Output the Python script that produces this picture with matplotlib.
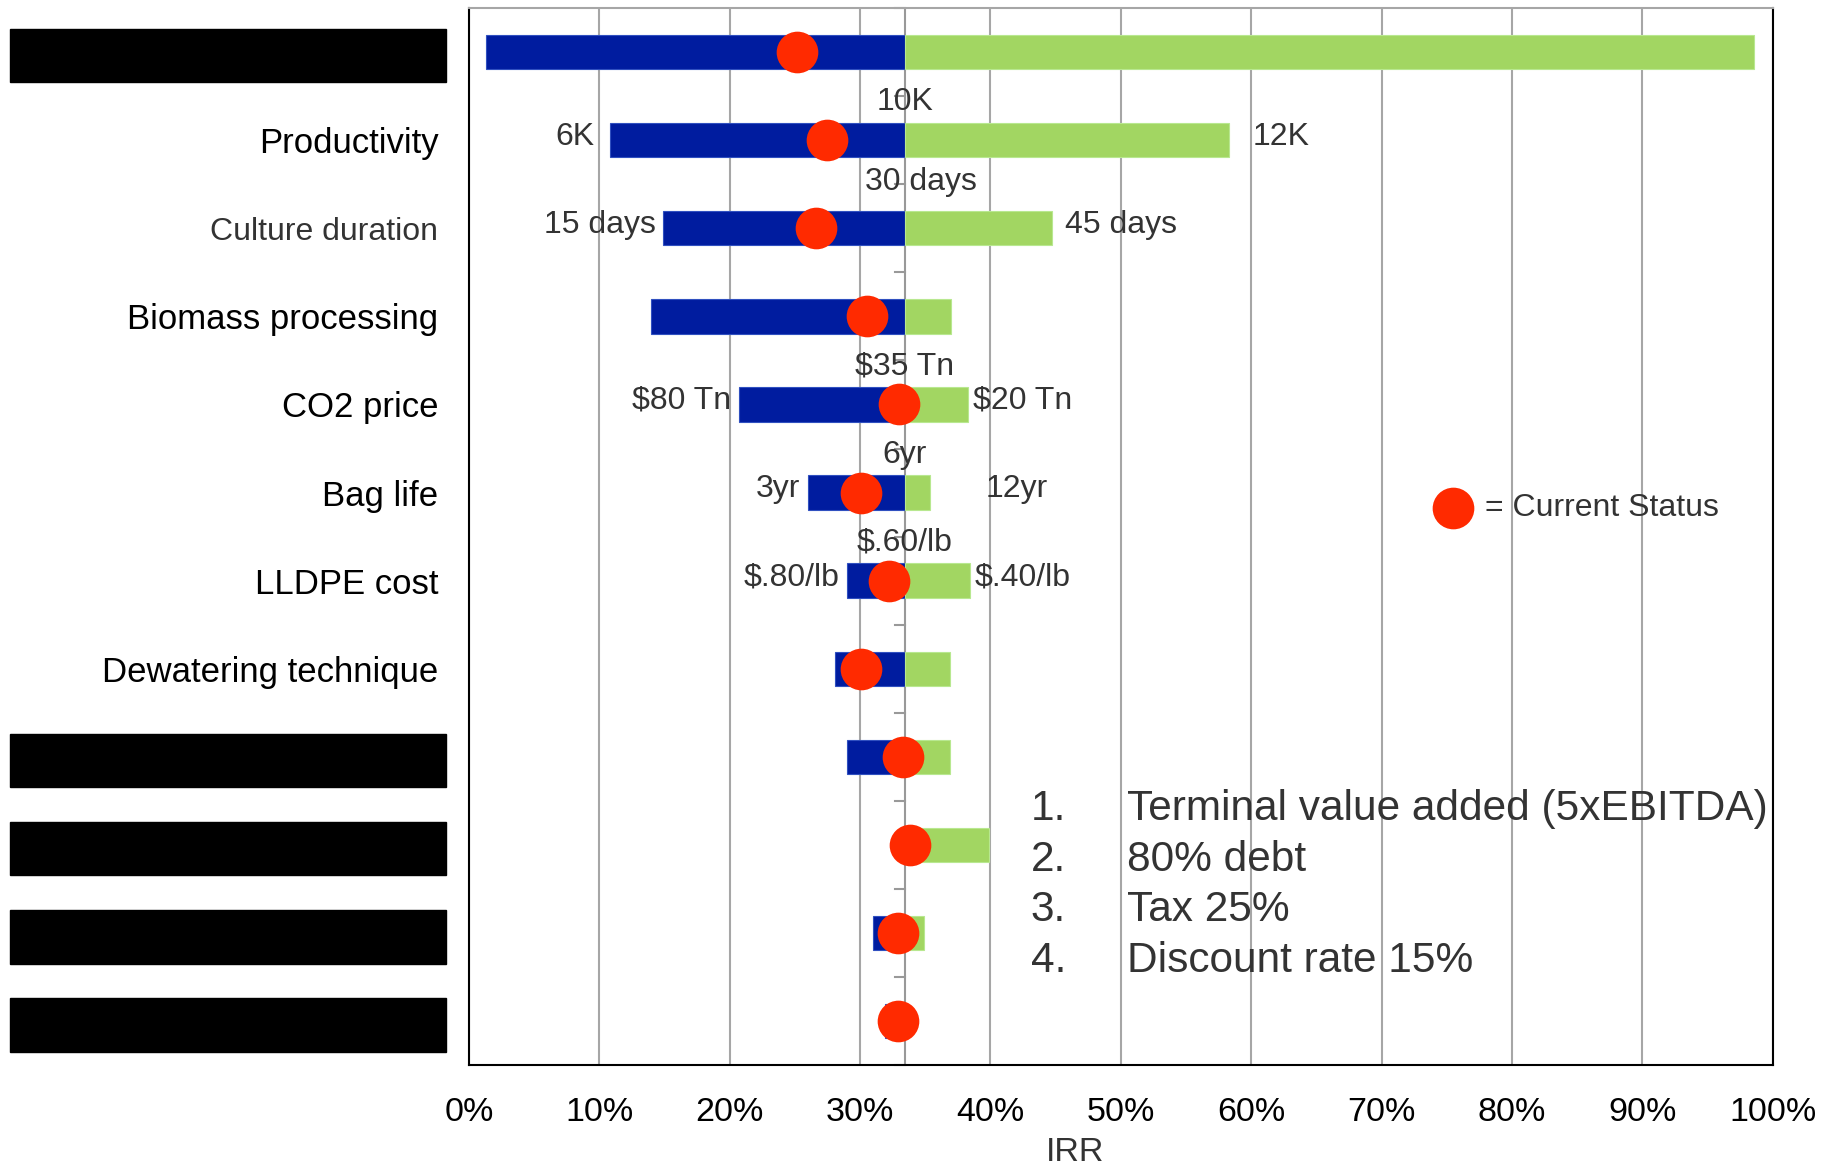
import matplotlib
matplotlib.use('Agg')
import matplotlib.pyplot as plt
import matplotlib.transforms as mtransforms
from matplotlib.patches import Rectangle
from matplotlib.ticker import MultipleLocator, PercentFormatter

plt.rcParams['font.family'] = ['Liberation Sans', 'DejaVu Sans']

# Tornado chart data (IRR, %)
categories = ['', 'Productivity', 'Culture duration', 'Biomass processing', 'CO2 price',
              'Bag life', 'LLDPE cost', 'Dewatering technique', '', '', '', '']
redacted = [True, False, False, False, False, False, False, False, True, True, True, True]
base_irr = 33.45
low_irr = [1.3, 10.8, 14.9, 14.0, 20.7, 26.0, 29.0, 28.1, 29.0, 33.45, 31.0, 31.9]
high_irr = [98.6, 58.3, 44.7, 37.0, 38.3, 35.4, 38.4, 36.9, 36.9, 39.9, 34.9, 33.45]
current_irr = [25.2, 27.5, 26.6, 30.5, 33.0, 30.1, 32.2, 30.1, 33.3, 33.8, 32.9, 32.9]

low_labels = ['', '6K', '15 days', '', '$80 Tn', '3yr', '$.80/lb', '', '', '', '', '']
mid_labels = ['', '10K', '30 days', '', '$35 Tn', '6yr', '$.60/lb', '', '', '', '', '']
high_labels = ['', '12K', '45 days', '', '$20 Tn', '12yr', '$.40/lb', '', '', '', '', '']

assumptions = ['Terminal value added (5xEBITDA)', '80% debt', 'Tax 25%', 'Discount rate 15%']

blue = '#001C9F'
green = '#A2D662'
red = '#FF2A00'
txt_gray = '#333333'

fig = plt.figure(figsize=(18.29, 11.70), dpi=100)
ax = fig.add_axes([0.2564, 0.0895, 0.7128, 0.9037])

rows = list(range(len(categories)))
lows = [base_irr - v for v in low_irr]
highs = [v - base_irr for v in high_irr]

ax.barh(rows, [-v for v in lows], left=base_irr, height=0.39, color=blue,
        edgecolor='#3050c0', linewidth=0.8, zorder=3)
ax.barh(rows, highs, left=base_irr, height=0.39, color=green,
        edgecolor='#b8e890', linewidth=0.8, zorder=3)
dots = ax.scatter(current_irr, rows, s=900, color=red, zorder=5, linewidths=0)

# center axis line with category tick marks
ax.axvline(base_irr, color='#999999', lw=1.5, zorder=2)
for k in range(len(categories) + 1):
    ax.plot([base_irr - 0.8, base_irr], [k - 0.5, k - 0.5], color='#999999', lw=1.5,
            zorder=2, clip_on=False)

# value labels
high_gap = {'12K': 1.8, '45 days': 1.0, '12yr': 4.2}
for i in rows:
    if low_labels[i]:
        gap = 1.2 if low_labels[i] == '6K' else 0.6
        ax.text(low_irr[i] - gap, i - 0.04, low_labels[i], ha='right', va='center',
                fontsize=23, color=txt_gray, zorder=6)
    if high_labels[i]:
        ax.text(high_irr[i] + high_gap.get(high_labels[i], 0.35), i - 0.04, high_labels[i],
                ha='left', va='center', fontsize=23, color=txt_gray, zorder=6)
    if mid_labels[i]:
        dy = 0.52 if mid_labels[i] == '30 days' else 0.43
        dx = 1.2 if mid_labels[i] == '30 days' else 0
        ax.text(base_irr + dx, i - dy, mid_labels[i], ha='center', va='center',
                fontsize=23, color=txt_gray, zorder=6)

ax.set_xlim(0, 100)
ax.set_ylim(len(categories) - 0.5, -0.5)
ax.xaxis.set_major_locator(MultipleLocator(10))
ax.xaxis.set_major_formatter(PercentFormatter(decimals=0))
ax.grid(axis='x', color='#A6A6A6', lw=1.5, zorder=0)
ax.set_axisbelow(True)
ax.tick_params(axis='x', length=0, pad=23, labelsize=24.5, labelcolor='black')
ax.tick_params(axis='y', length=0, pad=22)
ax.set_yticks(rows)
ax.set_yticklabels(categories, fontsize=25)
for lab, name in zip(ax.get_yticklabels(), categories):
    if name == 'Culture duration':
        lab.set_fontsize(23)
        lab.set_color(txt_gray)
ax.set_xlabel('IRR', fontsize=24.5, color=txt_gray, x=0.465, labelpad=6)

for side in ['left', 'bottom', 'right']:
    ax.spines[side].set_color('black')
    ax.spines[side].set_linewidth(1.5)
ax.spines['top'].set_color('#A6A6A6')
ax.spines['top'].set_linewidth(1.5)

# redaction boxes over hidden category names
trans = mtransforms.blended_transform_factory(fig.transFigure, ax.transData)
for i in rows:
    if redacted[i]:
        fig.add_artist(Rectangle((0.0057, i - 0.265), 0.238, 0.61, transform=trans,
                                 color='black', zorder=10))

# legend for current status
ax.legend([dots], ['= Current Status'], loc='center left', bbox_to_anchor=(0.722, 0.527),
          frameon=False, fontsize=23, handlelength=0.9, handletextpad=0.55,
          labelcolor=txt_gray, markerscale=1.0)

# assumption list
for n, line in enumerate(assumptions):
    y = 0.242 - n * 0.0478
    ax.text(0.431, y, f'{n + 1}.', transform=ax.transAxes, fontsize=30.5, color=txt_gray,
            va='center', ha='left')
    ax.text(0.5045, y, line, transform=ax.transAxes, fontsize=30.5, color=txt_gray,
            va='center', ha='left')

fig.savefig('out.png', dpi=100)
